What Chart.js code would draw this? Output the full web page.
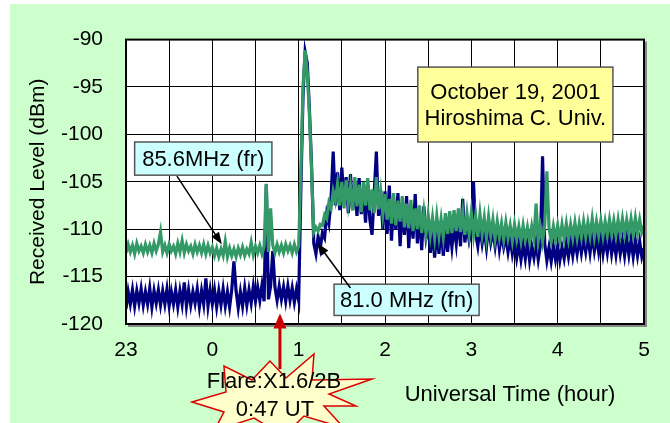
<!DOCTYPE html>
<html>
<head>
<meta charset="utf-8">
<script src="https://cdn.jsdelivr.net/npm/chart.js@4.4.0/dist/chart.umd.min.js"></script>
<style>
  html, body { margin: 0; padding: 0; background: #fff; }
  #wrap { position: absolute; left: 10px; top: 4px; width: 660px; height: 419px; background: #ccffcc; }
  canvas { display: block; }
</style>
</head>
<body>
<div id="wrap"><canvas id="chart" width="660" height="419"></canvas></div>
<script>
// ===== Dados: nível recebido (dBm), uma amostra a cada 0.025 h, começando em 23:00 (= -1)
const T0 = -1;
const DT = 0.025;

// 85.6 MHz (fr) - verde
const frH23 = [-112.5,-111.6,-112.4,-111.7,-112.6,-111.5,-112.3,-111.8,-112.5,-111.6,
               -112.4,-111.7,-112.5,-111.5,-112.3,-111.6,-110.3,-112.4,-111.7,-112.5,
               -111.6,-112.3,-111.8,-112.6,-111.5,-112.4,-111.2,-112.5,-111.6,-112.3,
               -111.8,-112.6,-111.6,-112.4,-111.7,-112.5,-111.6,-112.6,-111.7,-112.5];
const frH0  = [-111.9,-112.8,-112.0,-112.9,-112.1,-112.8,-111.3,-112.9,-112.0,-112.8,
               -112.1,-112.9,-112.0,-112.7,-111.9,-112.8,-112.1,-112.6,-111.4,-112.7,
               -111.8,-112.5,-111.7,-112.6,-111.8,-105.2,-112.4,-107.8,-111.7,-112.5,
               -111.6,-112.4,-111.7,-112.5,-111.6,-112.3,-111.7,-112.5,-111.6,-112.4];
const frH1  = [-111.8,-104.0,-95.0,-91.1,-93.5,-98.0,-104.0,-110.3,-109.8,-110.2,
               -109.5,-109.6,-108.5,-108.9,-107.2,-107.8,-106.0,-107.0,-105.2,-107.5,
               -105.0,-107.8,-104.8,-107.3,-105.5,-108.0,-104.5,-107.6,-105.3,-108.2,
               -105.0,-107.5,-104.6,-108.0,-105.8,-108.3,-104.5,-107.9,-106.0,-108.4];
const frH2  = [-106.3,-109.0,-106.8,-109.4,-106.2,-109.6,-107.0,-109.2,-106.5,-109.8,
               -107.3,-109.9,-106.9,-110.2,-107.8,-110.0,-107.5,-110.4,-108.2,-110.5,
               -108.5,-110.6,-108.8,-110.9,-108.6,-110.7,-108.9,-110.8,-108.3,-110.5,
               -108.1,-110.4,-108.0,-110.2,-107.8,-110.3,-108.2,-110.6,-108.4,-110.5];
const frH3  = [-108.3,-110.6,-108.6,-110.8,-108.4,-110.5,-108.8,-110.9,-108.7,-110.6,
               -109.0,-111.0,-109.2,-110.8,-109.4,-111.1,-109.3,-110.9,-109.6,-111.2,
               -109.5,-111.0,-109.7,-111.2,-109.6,-111.1,-109.8,-111.3,-109.7,-111.0,
               -107.3,-111.2,-109.8,-111.3,-109.6,-103.9,-109.9,-111.2,-109.7,-111.1];
const frH4  = [-109.6,-111.1,-109.5,-111.0,-109.4,-111.0,-109.5,-110.9,-109.3,-110.9,
               -109.4,-110.8,-109.2,-110.8,-109.3,-110.7,-108.9,-110.8,-109.2,-110.6,
               -109.1,-110.7,-109.2,-110.6,-109.0,-110.5,-109.1,-110.6,-109.0,-110.5,
               -108.9,-110.5,-109.0,-110.4,-108.9,-110.5,-108.8,-110.4,-109.0,-110.3,
               -109.6]; // último = 5:00

// 81.0 MHz (fn) - azul
const fnH23 = [-118.4,-116.6,-117.9,-116.4,-118.1,-116.5,-117.8,-116.3,-118.0,-116.6,
               -117.9,-116.2,-118.2,-116.5,-117.8,-116.4,-118.0,-116.5,-117.9,-116.3,
               -118.1,-116.6,-117.9,-116.4,-118.2,-116.5,-117.9,-115.6,-118.1,-116.4,
               -118.0,-116.6,-117.8,-116.3,-118.2,-116.5,-117.9,-115.2,-118.1,-116.4];
const fnH0  = [-117.9,-116.4,-118.2,-116.5,-118.0,-116.3,-118.1,-116.6,-118.2,-116.4,
               -113.4,-116.5,-118.3,-116.6,-118.1,-116.2,-118.0,-116.4,-117.8,-116.0,
               -117.6,-116.1,-117.5,-115.9,-117.6,-105.3,-117.4,-116.0,-112.3,-116.1,
               -117.5,-116.0,-117.4,-116.1,-117.6,-116.0,-117.5,-116.2,-117.7,-116.3];
const fnH1  = [-117.5,-106.0,-96.0,-91.3,-92.5,-97.5,-103.5,-111.5,-112.6,-110.8,
               -112.0,-110.4,-110.9,-108.4,-109.4,-106.8,-101.8,-107.5,-104.0,-108.0,
               -103.5,-107.0,-104.5,-108.3,-104.2,-108.0,-105.0,-108.6,-104.6,-108.4,
               -106.0,-109.3,-105.3,-109.0,-110.6,-106.2,-101.8,-108.6,-105.9,-110.0];
const fnH2  = [-106.0,-110.5,-105.4,-111.2,-107.0,-110.0,-106.2,-111.8,-107.5,-110.6,
               -106.5,-112.0,-107.8,-111.0,-106.3,-111.5,-108.0,-112.2,-107.6,-110.8,
               -109.5,-112.5,-110.2,-113.0,-110.0,-112.6,-109.3,-112.8,-110.1,-112.4,
               -109.8,-111.9,-109.6,-111.5,-108.8,-111.8,-106.8,-111.4,-109.5,-111.2];
const fnH3  = [-110.2,-105.0,-110.5,-111.8,-109.8,-111.5,-110.0,-111.9,-109.6,-111.4,
               -110.2,-111.8,-109.9,-112.1,-110.5,-111.9,-110.8,-112.4,-110.9,-112.6,
               -111.3,-113.0,-111.5,-113.2,-111.6,-113.1,-111.2,-113.3,-111.8,-113.0,
               -111.4,-113.2,-111.7,-102.3,-111.5,-113.3,-111.9,-113.4,-111.8,-113.2];
const fnH4  = [-111.8,-113.3,-111.9,-113.1,-111.5,-112.9,-111.3,-112.8,-111.2,-112.6,
               -110.9,-112.5,-111.0,-112.4,-110.8,-112.5,-110.6,-112.3,-110.9,-112.4,
               -110.8,-112.6,-111.0,-112.5,-110.7,-112.6,-111.1,-112.7,-110.9,-112.6,
               -111.2,-112.8,-111.0,-112.7,-111.1,-112.9,-111.2,-112.8,-111.3,-112.9,
               -112.0]; // último = 5:00

// Eixos
const X_MIN = -1, X_MAX = 5, X_STEP = 0.5;
const Y_MIN = -120, Y_MAX = -90, Y_STEP = 5;

const FONT = "Arial, 'Liberation Sans', sans-serif";
const GREEN = '#339966';
const NAVY = '#000080';

const frVals = [].concat(frH23, frH0, frH1, frH2, frH3, frH4);
const fnVals = [].concat(fnH23, fnH0, fnH1, fnH2, fnH3, fnH4);
const toPts = vals => vals.map((v, i) => ({ x: T0 + i * DT, y: v }));

// ===== Anotações (posições em horas / dBm)
const dateBox = { t1: 2.38, t2: 4.64, v1: -92.9, v2: -100.8, fill: '#ffff99', lines: ['October 19, 2001', 'Hiroshima C. Univ.'] };
const frBox   = { t1: -0.90, t2: 0.69, v1: -100.8, v2: -104.3, fill: '#ccffff', lines: ['85.6MHz (fr)'] };
const fnBox   = { t1: 1.41, t2: 3.09, v1: -115.8, v2: -119.1, fill: '#ccffff', lines: ['81.0 MHz (fn)'] };
const frArrow = { t1: -0.41, v1: -104.4, t2: 0.11, v2: -111.6 };
const fnArrow = { t1: 1.60, v1: -116.2, t2: 1.22, v2: -111.5 };
const flareT = 47 / 60; // 0:47 UT

// contorno da "explosão" (offsets em px a partir do centro)
const STAR = [[-82,6],[-48,-4],[-50,-30],[-22,-16],[-4,-35],[12,-18],[40,-42],[38,-16],
              [98,-17],[55,-2],[82,10],[50,10],[70,32],[30,20],[10,40],[-20,22],[-60,35],[-50,16]];

function drawArrow(c, x1, y1, x2, y2, color, width, len, half) {
  const a = Math.atan2(y2 - y1, x2 - x1);
  c.strokeStyle = color; c.fillStyle = color; c.lineWidth = width;
  c.beginPath();
  c.moveTo(x1, y1);
  c.lineTo(x2 - Math.cos(a) * len * 0.7, y2 - Math.sin(a) * len * 0.7);
  c.stroke();
  const bx = x2 - Math.cos(a) * len, by = y2 - Math.sin(a) * len;
  c.beginPath();
  c.moveTo(x2, y2);
  c.lineTo(bx + Math.sin(a) * half, by - Math.cos(a) * half);
  c.lineTo(bx - Math.sin(a) * half, by + Math.cos(a) * half);
  c.closePath();
  c.fill();
}

function drawBox(c, xs, ys, b) {
  const x1 = xs.getPixelForValue(b.t1), x2 = xs.getPixelForValue(b.t2);
  const y1 = ys.getPixelForValue(b.v1), y2 = ys.getPixelForValue(b.v2);
  c.fillStyle = b.fill;
  c.fillRect(x1, y1, x2 - x1, y2 - y1);
  c.strokeStyle = '#555'; c.lineWidth = 1.5;
  c.strokeRect(x1, y1, x2 - x1, y2 - y1);
  c.fillStyle = '#000';
  c.font = '22px ' + FONT;
  c.textAlign = 'center'; c.textBaseline = 'middle';
  const lh = 26, cy = (y1 + y2) / 2 - (b.lines.length - 1) * lh / 2;
  b.lines.forEach((l, i) => c.fillText(l, (x1 + x2) / 2, cy + i * lh + 1));
}

const decor = {
  id: 'decor',
  beforeDraw(chart) {
    const { ctx: c, chartArea: a } = chart;
    c.save();
    c.fillStyle = '#fff';
    c.fillRect(a.left, a.top, a.right - a.left, a.bottom - a.top);
    c.restore();
  },
  afterDraw(chart) {
    const { ctx: c, chartArea: a, scales: { x: xs, y: ys } } = chart;
    c.save();
    // moldura com sombra
    c.strokeStyle = '#888'; c.lineWidth = 2;
    c.beginPath();
    c.moveTo(a.right + 2, a.top + 2); c.lineTo(a.right + 2, a.bottom + 2); c.lineTo(a.left + 2, a.bottom + 2);
    c.stroke();
    c.strokeStyle = '#000'; c.lineWidth = 2;
    c.strokeRect(a.left, a.top, a.right - a.left, a.bottom - a.top);

    // caixas + setas
    drawBox(c, xs, ys, dateBox);
    drawBox(c, xs, ys, frBox);
    drawBox(c, xs, ys, fnBox);
    drawArrow(c, xs.getPixelForValue(frArrow.t1), ys.getPixelForValue(frArrow.v1),
              xs.getPixelForValue(frArrow.t2), ys.getPixelForValue(frArrow.v2), '#000', 1.5, 12, 4.5);
    drawArrow(c, xs.getPixelForValue(fnArrow.t1), ys.getPixelForValue(fnArrow.v1),
              xs.getPixelForValue(fnArrow.t2), ys.getPixelForValue(fnArrow.v2), '#000', 1.5, 12, 4.5);

    // título do eixo x
    c.fillStyle = '#000';
    c.font = '22px ' + FONT;
    c.textAlign = 'center'; c.textBaseline = 'middle';
    c.fillText('Universal Time (hour)', 500, 391);

    // flare: seta vermelha + explosão
    const fx = xs.getPixelForValue(flareT);
    drawArrow(c, fx, 365, fx, ys.getPixelForValue(-118.9), '#cc0000', 3, 15, 6.5);
    const cx = xs.getPixelForValue(0.714), cy = 392;
    c.beginPath();
    STAR.forEach(([dx, dy], i) => i ? c.lineTo(cx + dx, cy + dy) : c.moveTo(cx + dx, cy + dy));
    c.closePath();
    c.fillStyle = '#ffffcc'; c.fill();
    c.strokeStyle = '#dd0000'; c.lineWidth = 1.5; c.stroke();
    c.fillStyle = '#000';
    c.font = '22px ' + FONT;
    c.fillText('Flare:X1.6/2B', cx, 378);
    c.fillText('0:47 UT', cx + 1, 406);
    c.restore();
  }
};

new Chart(document.getElementById('chart'), {
  type: 'line',
  data: {
    datasets: [
      { label: '85.6MHz (fr)', data: toPts(frVals), borderColor: GREEN, borderWidth: 3.2, pointRadius: 0, tension: 0 },
      { label: '81.0 MHz (fn)', data: toPts(fnVals), borderColor: NAVY, borderWidth: 3.2, pointRadius: 0, tension: 0 }
    ]
  },
  options: {
    responsive: false,
    animation: false,
    layout: { padding: { left: 0, top: 28, right: 26, bottom: 59 } },
    plugins: { legend: { display: false }, tooltip: { enabled: false } },
    scales: {
      x: {
        type: 'linear', min: X_MIN, max: X_MAX,
        grid: { color: '#000', lineWidth: 1, drawTicks: false },
        border: { display: false },
        ticks: {
          stepSize: X_STEP, autoSkip: false, maxRotation: 0, padding: 14,
          color: '#000', font: { family: FONT, size: 21 },
          callback: v => Number.isInteger(v) ? String(v < 0 ? v + 24 : v) : ''
        },
        afterFit: s => { s.height = 40; }
      },
      y: {
        min: Y_MIN, max: Y_MAX,
        grid: { color: '#000', lineWidth: 1, drawTicks: false },
        border: { display: false },
        ticks: { stepSize: Y_STEP, padding: 23, color: '#000', font: { family: FONT, size: 21 } },
        title: { display: true, text: 'Received Level (dBm)', color: '#000', font: { family: FONT, size: 21 }, padding: { top: 16, bottom: 0 } },
        afterFit: s => { s.width = 116; }
      }
    }
  },
  plugins: [decor]
});
</script>
</body>
</html>
